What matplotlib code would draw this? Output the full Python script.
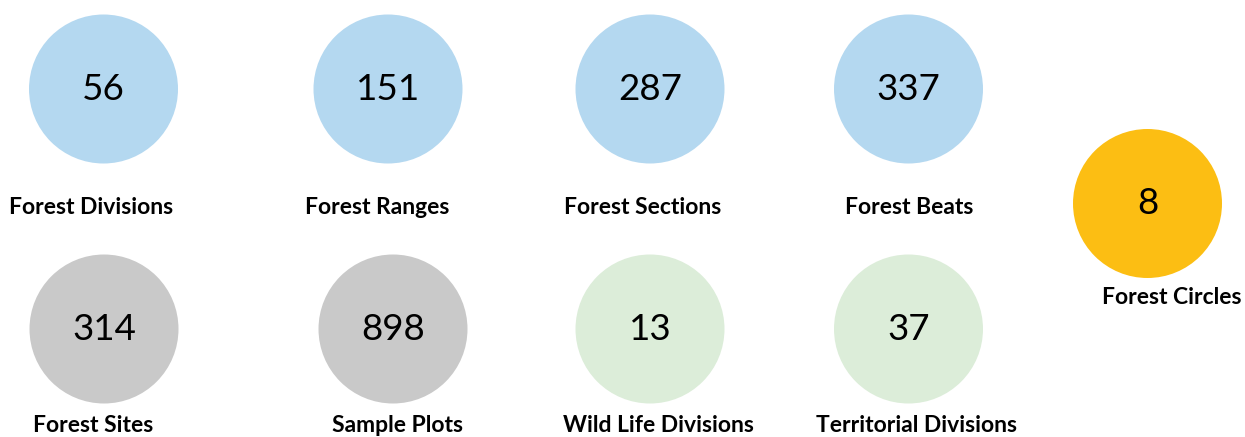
import matplotlib.pyplot as plt
from matplotlib.patches import Circle

# data
labels = ["Forest Divisions", "Forest Ranges", "Forest Sections", "Forest Beats",
          "Forest Circles",
          "Forest Sites", "Sample Plots", "Wild Life Divisions", "Territorial Divisions"]
counts = [56, 151, 287, 337, 8, 314, 898, 13, 37]
groups = ["admin", "admin", "admin", "admin", "circle",
          "survey", "survey", "wildlife", "wildlife"]

# layout (pixel coords of the 1245x437 canvas)
centers = [(103.5, 89), (388, 89), (650, 89), (908.5, 89), (1147.5, 203.5),
           (104, 329), (393, 329), (650, 329), (908.5, 329)]
label_pos = [(91, 207), (377, 207), (643, 207), (909, 207), (1172, 298),
             (93, 426), (397, 426), (658, 426), (916, 426)]
radius = 74.5
colors = {"admin": "#B4D8F0", "circle": "#FCBE13",
          "survey": "#C9C9C9", "wildlife": "#DCEDD9"}

plt.rcParams["font.family"] = ["Lato", "DejaVu Sans"]

fig = plt.figure(figsize=(12.45, 4.37), dpi=100)
ax = fig.add_axes([0, 0, 1, 1])
ax.set_xlim(0, 1245)
ax.set_ylim(437, 0)
ax.set_aspect("equal")
ax.axis("off")

for (cx, cy), n, g in zip(centers, counts, groups):
    ax.add_patch(Circle((cx, cy), radius, facecolor=colors[g], edgecolor="none"))
    ax.text(cx, cy, str(n), ha="center", va="center", fontsize=26.5, color="black")

for (lx, ly), lab in zip(label_pos, labels):
    ax.text(lx, ly, lab, ha="center", va="center", fontsize=16.5,
            fontweight="bold", color="black")

fig.savefig("out.png", dpi=100)
